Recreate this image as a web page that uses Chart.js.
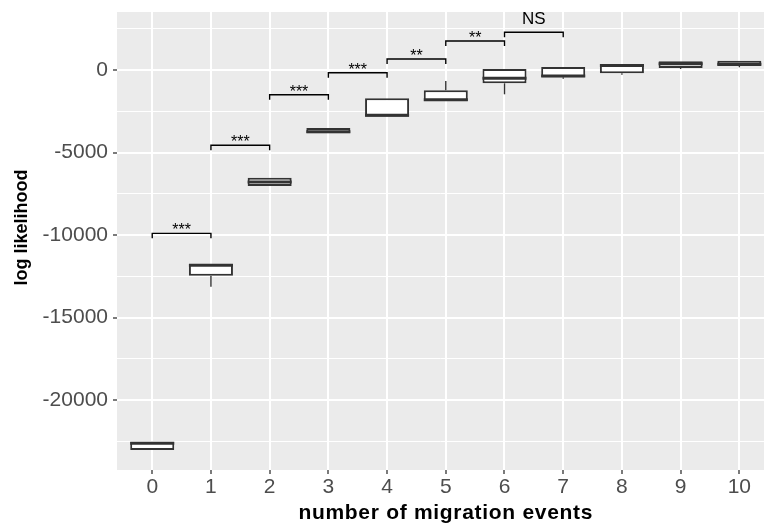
<!DOCTYPE html>
<html><head><meta charset="utf-8">
<script src="https://cdn.jsdelivr.net/npm/chart.js@4"></script>
<style>html,body{margin:0;padding:0;background:#fff;overflow:hidden}</style>
</head><body>
<canvas id="c" width="764" height="523"></canvas>
<script>
// ---- data ----
const categories   = ['0','1','2','3','4','5','6','7','8','9','10'];
const whiskerLow   = [-23030, -13130, -7030, -3836, -2828, -1879, -1473, -527, -285,  61, 164];
const boxLow       = [-23030, -12463, -7030, -3836, -2828, -1879,  -806, -442, -200, 121, 242];
const medians      = [-22620, -11837, -6787, -3740, -2745, -1800,  -503, -364,  273, 380, 350];
const boxHigh      = [-22540, -11757, -6525, -3515, -1717, -1230,    60,  182,  364, 527, 564];
const whiskerHigh  = [-22540, -11757, -6525, -3515, -1717,  -667,    60,  182,  364, 527, 564];

const bracketFrom   = [0, 1, 2, 3, 4, 5, 6];
const bracketTo     = [1, 2, 3, 4, 5, 6, 7];
const bracketY      = [-9900, -4560, -1500, -165, 665, 1755, 2285];
const bracketLabels = ['***', '***', '***', '***', '**', '**', 'NS'];

const yMajorTicks = [-20000, -15000, -10000, -5000, 0];
const yMinorTicks = [-22500, -17500, -12500, -7500, -2500, 2500];
const xTickLabels = categories;
const xTitle = 'number of migration events';
const yTitle = 'log likelihood';

const FONT = "'Liberation Sans', Arial, Helvetica, sans-serif";
Chart.defaults.font.family = FONT;

const extras = {
  id: 'extras',
  beforeDraw(chart) {
    const {ctx, chartArea: a} = chart;
    ctx.save();
    ctx.fillStyle = '#EBEBEB';
    ctx.fillRect(a.left, a.top, a.right - a.left, a.bottom - a.top);
    ctx.restore();
  },
  afterDatasetsDraw(chart) {
    const ctx = chart.ctx, xs = chart.scales.x, ys = chart.scales.y;
    const meta = chart.getDatasetMeta(0);
    const a = chart.chartArea;
    ctx.save();
    ctx.beginPath(); ctx.rect(a.left, a.top, a.right - a.left, a.bottom - a.top); ctx.clip();
    const line = (x1, y1, x2, y2) => { ctx.beginPath(); ctx.moveTo(x1, y1); ctx.lineTo(x2, y2); ctx.stroke(); };
    ctx.strokeStyle = '#333333';
    categories.forEach((c, i) => {
      const bar = meta.data[i];
      const x = bar.x, hw = bar.width / 2;
      ctx.lineWidth = 1.4;
      if (whiskerLow[i] < boxLow[i]) line(x, ys.getPixelForValue(whiskerLow[i]), x, ys.getPixelForValue(boxLow[i]));
      if (whiskerHigh[i] > boxHigh[i]) line(x, ys.getPixelForValue(boxHigh[i]), x, ys.getPixelForValue(whiskerHigh[i]));
      ctx.lineWidth = 3;
      const ym = ys.getPixelForValue(medians[i]);
      line(x - hw, ym, x + hw, ym);
    });
    // significance brackets
    ctx.strokeStyle = '#000000';
    ctx.fillStyle = '#000000';
    ctx.lineWidth = 1.4;
    ctx.textAlign = 'center';
    bracketLabels.forEach((lab, k) => {
      const x1 = xs.getPixelForValue(bracketFrom[k]);
      const x2 = xs.getPixelForValue(bracketTo[k]);
      const y = ys.getPixelForValue(bracketY[k]);
      ctx.beginPath();
      ctx.moveTo(x1, y + 5); ctx.lineTo(x1, y); ctx.lineTo(x2, y); ctx.lineTo(x2, y + 5);
      ctx.stroke();
      const stars = /^\*+$/.test(lab);
      ctx.textBaseline = 'alphabetic';
      if (stars) {
        ctx.font = '16px ' + FONT;
        ctx.fillText(lab, (x1 + x2) / 2, y + 2);
      } else {
        ctx.font = '17px ' + FONT;
        ctx.fillText(lab, (x1 + x2) / 2, y - 8.5);
      }
    });
    ctx.restore();
  },
  afterDraw(chart) {
    const ctx = chart.ctx, a = chart.chartArea, xs = chart.scales.x;
    ctx.save();
    ctx.fillStyle = '#000000';
    ctx.textAlign = 'center';
    ctx.textBaseline = 'alphabetic';
    ctx.font = 'bold 21px ' + FONT;
    try { ctx.letterSpacing = '0.7px'; } catch (e) {}
    const panelRight = xs.getPixelForValue(categories.length - 1 + 0.6);
    ctx.fillText(xTitle, (a.left + panelRight) / 2, a.bottom + 49);
    try { ctx.letterSpacing = '0px'; } catch (e) {}
    ctx.font = 'bold 18px ' + FONT;
    ctx.translate(26.7, (a.top + a.bottom) / 2 - 13.5);
    ctx.rotate(-Math.PI / 2);
    ctx.fillText(yTitle, 0, 0);
    ctx.restore();
  }
};

new Chart(document.getElementById('c'), {
  type: 'bar',
  data: {
    datasets: [{
      data: categories.map((c, i) => ({x: i, y: [boxLow[i], boxHigh[i]]})),
      backgroundColor: '#FFFFFF',
      borderColor: '#333333',
      borderWidth: 2,
      borderSkipped: false,
      barPercentage: 0.75,
      categoryPercentage: 1
    }]
  },
  options: {
    responsive: false,
    devicePixelRatio: 1,
    animation: false,
    layout: {padding: {top: 12, left: 0, right: 0, bottom: 0}},
    plugins: {legend: {display: false}, tooltip: {enabled: false}},
    scales: {
      x: {
        type: 'linear',
        min: -0.6,
        max: 10.42,
        offset: false,
        afterBuildTicks: s => { s.ticks = categories.map((c, i) => ({value: i})); },
        afterFit: s => { s.height = 53; s.paddingLeft = 0; s.paddingRight = 0; },
        grid: {color: '#FFFFFF', lineWidth: 2, offset: false, tickColor: '#333333', tickLength: 4, tickWidth: 1.3},
        border: {display: false},
        ticks: {
          color: '#4D4D4D', font: {size: 21}, padding: 1, maxRotation: 0, autoSkip: false,
          callback: v => xTickLabels[v] !== undefined ? xTickLabels[v] : ''
        }
      },
      y: {
        min: -24242,
        max: 3515,
        afterBuildTicks: s => {
          s.ticks = yMajorTicks.concat(yMinorTicks).sort((p, q) => p - q).map(v => ({value: v}));
        },
        afterFit: s => { s.width = 117; s.paddingTop = 0; s.paddingBottom = 0; },
        grid: {
          color: '#FFFFFF',
          lineWidth: c => yMajorTicks.includes(c.tick.value) ? 2 : 1,
          tickColor: c => yMajorTicks.includes(c.tick.value) ? '#333333' : 'rgba(0,0,0,0)',
          tickLength: 4, tickWidth: 1.3
        },
        border: {display: false},
        ticks: {
          color: '#4D4D4D', font: {size: 21}, padding: 5, autoSkip: false,
          callback: v => yMajorTicks.includes(v) ? String(v) : ''
        }
      }
    }
  },
  plugins: [extras]
});
</script>
</body></html>
